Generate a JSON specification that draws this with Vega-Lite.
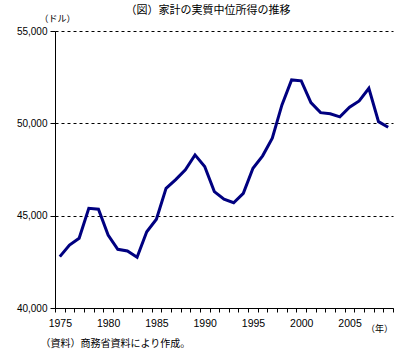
{
  "$schema": "https://vega.github.io/schema/vega-lite/v6.json",
  "autosize": "none",
  "width": 338,
  "height": 277,
  "padding": {"left": 55, "top": 31, "right": 14, "bottom": 53},
  "background": "white",
  "title": {
    "text": "（図）家計の実質中位所得の推移",
    "font": "Noto Sans CJK JP",
    "fontSize": 11,
    "fontWeight": "normal",
    "color": "black",
    "anchor": "middle",
    "frame": "group",
    "dx": -16,
    "dy": 6
  },
  "data": {
    "values": [
      {"year": 1975, "income": 42780},
      {"year": 1976, "income": 43410},
      {"year": 1977, "income": 43780},
      {"year": 1978, "income": 45400},
      {"year": 1979, "income": 45350},
      {"year": 1980, "income": 43950},
      {"year": 1981, "income": 43180},
      {"year": 1982, "income": 43090},
      {"year": 1983, "income": 42750},
      {"year": 1984, "income": 44130},
      {"year": 1985, "income": 44810},
      {"year": 1986, "income": 46480},
      {"year": 1987, "income": 46950},
      {"year": 1988, "income": 47480},
      {"year": 1989, "income": 48290},
      {"year": 1990, "income": 47660},
      {"year": 1991, "income": 46300},
      {"year": 1992, "income": 45890},
      {"year": 1993, "income": 45700},
      {"year": 1994, "income": 46210},
      {"year": 1995, "income": 47570},
      {"year": 1996, "income": 48240},
      {"year": 1997, "income": 49190},
      {"year": 1998, "income": 51000},
      {"year": 1999, "income": 52350},
      {"year": 2000, "income": 52300},
      {"year": 2001, "income": 51120},
      {"year": 2002, "income": 50580},
      {"year": 2003, "income": 50520},
      {"year": 2004, "income": 50350},
      {"year": 2005, "income": 50870},
      {"year": 2006, "income": 51210},
      {"year": 2007, "income": 51900},
      {"year": 2008, "income": 50090},
      {"year": 2009, "income": 49790}
    ]
  },
  "config": {
    "view": {"stroke": null},
    "axis": {"labelColor": "black", "titleColor": "black"}
  },
  "resolve": {"axis": {"x": "independent"}},
  "layer": [
    {
      "mark": {"type": "line", "opacity": 0},
      "encoding": {
        "x": {
          "field": "year",
          "type": "quantitative",
          "scale": {"domain": [1974.5, 2009.5], "nice": false, "zero": false},
          "axis": {
            "orient": "bottom",
            "values": [1975, 1980, 1985, 1990, 1995, 2000, 2005],
            "format": "d",
            "domain": false,
            "ticks": false,
            "labels": true,
            "labelOverlap": false,
            "labelFlush": false,
            "labelFont": "Liberation Sans",
            "labelFontSize": 10.5,
            "labelPadding": 10,
            "grid": false,
            "title": "（資料）商務省資料により作成。",
            "titleFont": "Noto Sans CJK JP",
            "titleFontSize": 10,
            "titleFontWeight": "normal",
            "titleAlign": "left",
            "titleBaseline": "middle",
            "titleAnchor": null,
            "titleX": -15,
            "titleY": 35
          }
        },
        "y": {"field": "income", "type": "quantitative"}
      }
    },
    {
      "mark": {"type": "line", "color": "#000080", "strokeWidth": 3},
      "encoding": {
        "x": {
          "field": "year",
          "type": "quantitative",
          "scale": {"domain": [1974.5, 2009.5], "nice": false, "zero": false},
          "axis": {
            "orient": "bottom",
            "values": [1974.5, 1975.5, 1976.5, 1977.5, 1978.5, 1979.5, 1980.5, 1981.5, 1982.5, 1983.5, 1984.5, 1985.5, 1986.5, 1987.5, 1988.5, 1989.5, 1990.5, 1991.5, 1992.5, 1993.5, 1994.5, 1995.5, 1996.5, 1997.5, 1998.5, 1999.5, 2000.5, 2001.5, 2002.5, 2003.5, 2004.5, 2005.5, 2006.5, 2007.5, 2008.5, 2009.5],
            "labels": false,
            "grid": false,
            "domainColor": "black",
            "domainWidth": 1,
            "tickColor": "black",
            "tickSize": 4,
            "title": "（年）",
            "titleFont": "Noto Sans CJK JP",
            "titleFontSize": 9,
            "titleFontWeight": "normal",
            "titleAlign": "center",
            "titleBaseline": "middle",
            "titleAnchor": null,
            "titleX": 324,
            "titleY": 20
          }
        },
        "y": {
          "field": "income",
          "type": "quantitative",
          "scale": {"domain": [40000, 55000], "nice": false, "zero": false},
          "axis": {
            "values": [40000, 45000, 50000, 55000],
            "format": ",d",
            "grid": true,
            "gridColor": "black",
            "gridDash": [3, 3],
            "gridWidth": 1,
            "domainColor": "black",
            "tickColor": "black",
            "tickSize": 5,
            "labelFont": "Liberation Sans",
            "labelFontSize": 10,
            "labelPadding": 3,
            "title": "（ドル）",
            "titleFont": "Noto Sans CJK JP",
            "titleFontSize": 9,
            "titleFontWeight": "normal",
            "titleAngle": 0,
            "titleAlign": "left",
            "titleBaseline": "middle",
            "titleAnchor": null,
            "titleX": -16,
            "titleY": -13
          }
        }
      }
    }
  ]
}
